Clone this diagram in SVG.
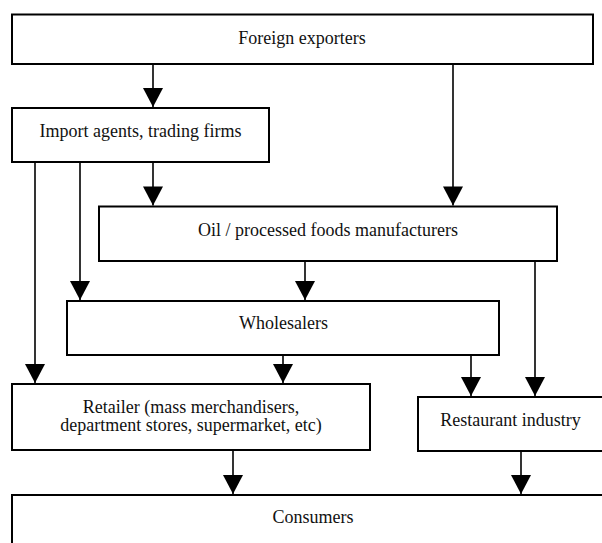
<svg xmlns="http://www.w3.org/2000/svg" width="602" height="543" viewBox="0 0 602 543">
<defs>
<style>
.box{fill:#fff;stroke:#000;stroke-width:2}
.lbl{font-family:"Liberation Serif","Times New Roman",serif;font-size:18px;fill:#111;text-anchor:middle}
.con{stroke:#000;stroke-width:1.6;fill:none}
</style>
<marker id="ah" markerUnits="userSpaceOnUse" markerWidth="20" markerHeight="20" viewBox="0 0 19 20" refX="19" refY="10" orient="auto">
<path d="M0,0 L19,10 L0,20 z" fill="#000"/>
</marker>
</defs>
<rect width="602" height="543" fill="#fff"/>
<g id="connectors">
<line class="con" x1="153" y1="64" x2="153" y2="107" marker-end="url(#ah)"/>
<line class="con" x1="453" y1="64" x2="453" y2="205.5" marker-end="url(#ah)"/>
<line class="con" x1="153" y1="162" x2="153" y2="205.5" marker-end="url(#ah)"/>
<line class="con" x1="80" y1="162" x2="80" y2="300" marker-end="url(#ah)"/>
<line class="con" x1="35" y1="162" x2="35" y2="383" marker-end="url(#ah)"/>
<line class="con" x1="305" y1="261" x2="305" y2="300" marker-end="url(#ah)"/>
<line class="con" x1="535" y1="261" x2="535" y2="396" marker-end="url(#ah)"/>
<line class="con" x1="283" y1="355" x2="283" y2="383" marker-end="url(#ah)"/>
<line class="con" x1="471" y1="354" x2="471" y2="396" marker-end="url(#ah)"/>
<line class="con" x1="233" y1="450" x2="233" y2="494" marker-end="url(#ah)"/>
<line class="con" x1="521" y1="451" x2="521" y2="494" marker-end="url(#ah)"/>
</g>
<g id="foreign-exporters">
<rect class="box" x="12" y="14.5" width="581" height="49.5"/>
<text class="lbl" x="302" y="43.5">Foreign exporters</text>
</g>
<g id="import-agents">
<rect class="box" x="12" y="108" width="257" height="54"/>
<text class="lbl" x="140.5" y="137">Import agents, trading firms</text>
</g>
<g id="manufacturers">
<rect class="box" x="99" y="206.5" width="458" height="54.5"/>
<text class="lbl" x="328" y="236">Oil / processed foods manufacturers</text>
</g>
<g id="wholesalers">
<rect class="box" x="67" y="301" width="432" height="54"/>
<text class="lbl" x="283.5" y="329">Wholesalers</text>
</g>
<g id="retailer">
<rect class="box" x="12" y="384" width="358" height="66"/>
<text class="lbl" x="191" y="412.5">Retailer (mass merchandisers,</text>
<text class="lbl" x="191" y="431">department stores, supermarket, etc)</text>
</g>
<g id="restaurant">
<rect class="box" x="418" y="397" width="185" height="54"/>
<text class="lbl" x="510.5" y="426">Restaurant industry</text>
</g>
<g id="consumers">
<rect class="box" x="12" y="495" width="602" height="60"/>
<text class="lbl" x="313" y="523">Consumers</text>
</g>
</svg>
